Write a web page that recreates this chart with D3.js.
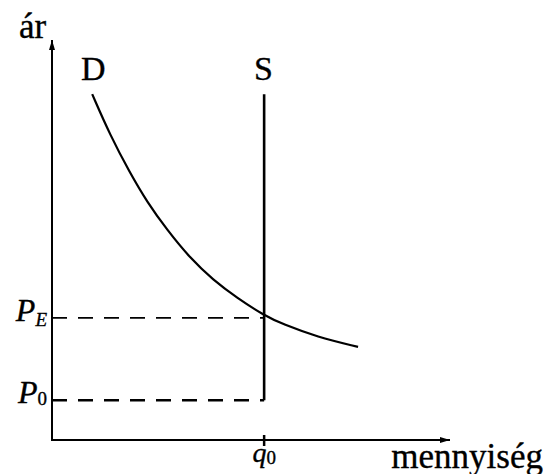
<!DOCTYPE html>
<html>
<head>
<meta charset="utf-8">
<script src="https://cdn.jsdelivr.net/npm/d3@7"></script>
<style>
  body { margin: 0; background: #fff; }
  text { font-family: "Liberation Serif", "Times New Roman", serif; fill: #000; stroke: #000; stroke-width: 0.35px; }
</style>
</head>
<body>
<div id="chart"></div>
<script>
// Demand curve points (quantity, price)
const demandQ = [1.01, 1.46, 1.96, 2.39, 2.89, 3.47, 4.05, 4.65, 5.33, 5.80, 6.66, 7.69];
const demandP = [8.69, 7.66, 6.71, 5.98, 5.28, 4.57, 4.02, 3.57, 3.13, 2.91, 2.59, 2.34];

// Vertical supply line at q0
const q0 = 5.33;
const supplyTop = 8.69;

// Price levels
const priceLevels = [
    {name: 'P', sub: 'E', subItalic: true, value: 3.07, width: 1.8},
    {name: 'P', sub: '0', subItalic: false, value: 1.0, width: 2.6}
];

const svgWidth = 546;
const svgHeight = 474;
const origin = {x: 52, y: 440};
const axisEnd = {x: 450, y: 40};

const x = d3.scaleLinear().domain([0, 10]).range([origin.x, axisEnd.x]);
const y = d3.scaleLinear().domain([0, 10]).range([origin.y, 42]);

const svg = d3.select('#chart').append('svg')
    .attr('width', svgWidth)
    .attr('height', svgHeight);

// Arrow head for the axes
svg.append('defs').append('marker')
    .attr('id', 'arrow')
    .attr('viewBox', '0 0 10 6')
    .attr('refX', 10)
    .attr('refY', 3)
    .attr('markerWidth', 10)
    .attr('markerHeight', 6)
    .attr('markerUnits', 'userSpaceOnUse')
    .attr('orient', 'auto')
    .append('path')
    .attr('d', 'M0,0 L10,3 L0,6 Z')
    .attr('fill', '#000');

// Axes
svg.append('line')
    .attr('x1', origin.x).attr('y1', origin.y)
    .attr('x2', origin.x).attr('y2', axisEnd.y)
    .attr('stroke', '#000').attr('stroke-width', 2)
    .attr('marker-end', 'url(#arrow)');
svg.append('line')
    .attr('x1', origin.x - 1).attr('y1', origin.y)
    .attr('x2', axisEnd.x).attr('y2', origin.y)
    .attr('stroke', '#000').attr('stroke-width', 2)
    .attr('marker-end', 'url(#arrow)');

// q0 tick
svg.append('line')
    .attr('x1', x(q0)).attr('y1', origin.y - 5)
    .attr('x2', x(q0)).attr('y2', origin.y + 6)
    .attr('stroke', '#000').attr('stroke-width', 2.5);

// Dashed price lines
svg.selectAll('line.level')
    .data(priceLevels)
    .enter()
    .append('line')
        .attr('class', 'level')
        .attr('x1', x(0)).attr('x2', x(q0))
        .attr('y1', d => y(d.value)).attr('y2', d => y(d.value))
        .attr('stroke', '#000')
        .attr('stroke-width', d => d.width)
        .attr('stroke-dasharray', '15,11');

// Supply line
svg.append('line')
    .attr('x1', x(q0)).attr('y1', y(supplyTop))
    .attr('x2', x(q0)).attr('y2', y(priceLevels[1].value))
    .attr('stroke', '#000').attr('stroke-width', 2.6);

// Demand curve
const demand = demandQ.map((q, i) => [q, demandP[i]]);
svg.append('path')
    .datum(demand)
    .attr('fill', 'none')
    .attr('stroke', '#000')
    .attr('stroke-width', 2.2)
    .attr('d', d3.line()
        .x(d => x(d[0]))
        .y(d => y(d[1]))
        .curve(d3.curveBasis));

// Labels
svg.append('text').attr('x', 19).attr('y', 38)
    .style('font-size', '35px').text('ár');
svg.append('text').attr('x', 81).attr('y', 80)
    .style('font-size', '34px').text('D');
svg.append('text').attr('x', 254).attr('y', 80)
    .style('font-size', '34px').text('S');
svg.append('text').attr('x', 543).attr('y', 468)
    .attr('text-anchor', 'end')
    .style('font-size', '35px').text('mennyiség');

// Price labels with subscripts
const levelText = svg.selectAll('text.level')
    .data(priceLevels)
    .enter()
    .append('text')
        .attr('class', 'level')
        .attr('x', 47)
        .attr('y', d => y(d.value) + 3)
        .attr('text-anchor', 'end');
levelText.append('tspan')
    .style('font-size', '32px')
    .style('font-style', 'italic')
    .text(d => d.name);
levelText.append('tspan')
    .attr('dy', d => d.subItalic ? 5 : 2)
    .style('font-size', '19px')
    .style('font-style', d => d.subItalic ? 'italic' : 'normal')
    .text(d => d.sub);

// q0 label
const qText = svg.append('text')
    .attr('x', x(q0))
    .attr('y', 462)
    .attr('text-anchor', 'middle');
qText.append('tspan')
    .style('font-size', '28px')
    .style('font-style', 'italic')
    .text('q');
qText.append('tspan')
    .attr('dy', 2)
    .style('font-size', '19px')
    .text('0');
</script>
</body>
</html>
